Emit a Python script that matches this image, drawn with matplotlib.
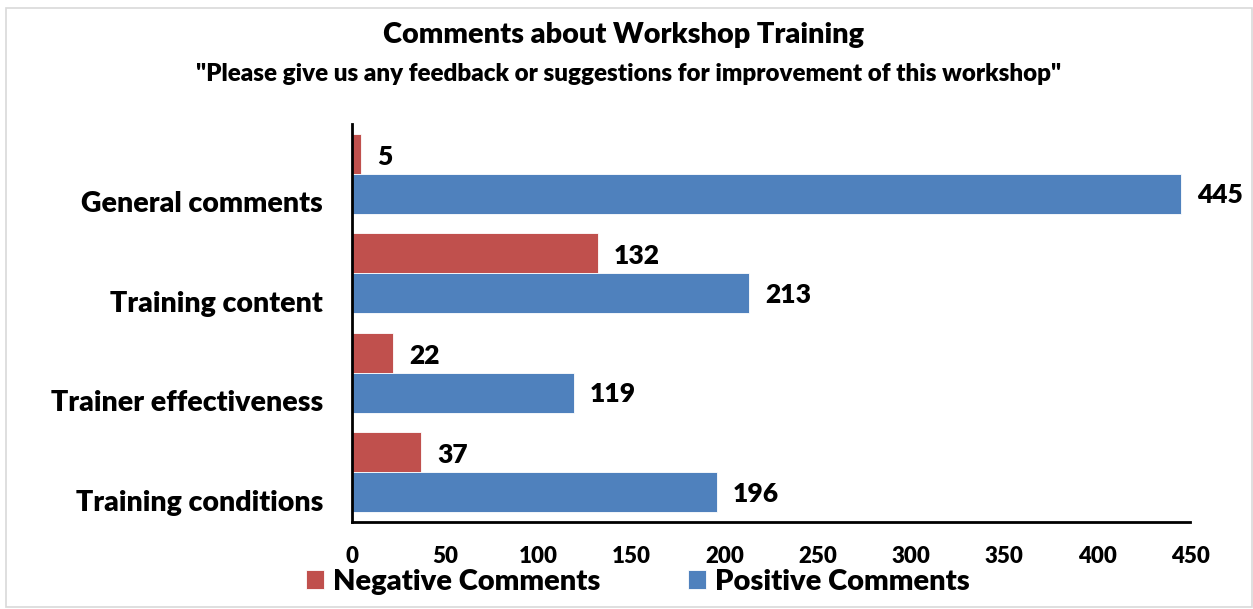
import matplotlib
matplotlib.use("Agg")
import matplotlib.pyplot as plt
import numpy as np
from matplotlib.patches import Rectangle

plt.rcParams['font.family'] = ['Lato', 'DejaVu Sans']
W = 'heavy'
plt.rcParams['font.weight'] = W

categories = ["General comments", "Training content", "Trainer effectiveness", "Training conditions"]
negative = [5, 132, 22, 37]
positive = [445, 213, 119, 196]
xticks = [0, 50, 100, 150, 200, 250, 300, 350, 400, 450]
title = "Comments about Workshop Training"
subtitle = '"Please give us any feedback or suggestions for improvement of this workshop"'
red = "#C0504D"
blue = "#4F81BD"

fig = plt.figure(figsize=(12.53, 6.09), dpi=100)
fig.patches.append(Rectangle((0.005, 0.003), 0.994, 0.984, transform=fig.transFigure,
                             fill=False, edgecolor="#D9D9D9", linewidth=1.2))
ax = fig.add_axes([0.281, 0.1429, 0.669, 0.6535])

y = np.arange(len(categories))
h = 0.4
ax.barh(y - h / 2, negative, height=h, color=red, edgecolor="white", linewidth=0.6, label="Negative Comments")
ax.barh(y + h / 2, positive, height=h, color=blue, edgecolor="white", linewidth=0.6, label="Positive Comments")

for yi, v in zip(y, negative):
    ax.annotate(str(v), (v, yi - h / 2), xytext=(11.5, -2), textcoords="offset points",
                va="center", ha="left", fontsize=19, fontweight=W)
for yi, v in zip(y, positive):
    ax.annotate(str(v), (v, yi + h / 2), xytext=(11.5, -1), textcoords="offset points",
                va="center", ha="left", fontsize=19, fontweight=W)

ax.set_ylim(len(categories) - 0.5, -0.5)
ax.set_xlim(0, 450)
ax.set_yticks(y + 0.28)
ax.set_yticklabels(categories, fontsize=20.5, fontweight=W)
ax.set_xticks(xticks)
ax.set_xticklabels([str(t) for t in xticks], fontsize=16, fontweight=W)
ax.tick_params(axis="both", length=0)
ax.tick_params(axis="x", pad=17)
ax.tick_params(axis="y", pad=21)
for s in ["top", "right"]:
    ax.spines[s].set_visible(False)
for s in ["left", "bottom"]:
    ax.spines[s].set_linewidth(2)
    ax.spines[s].set_color("black")

fig.text(0.498, 0.943, title, ha="center", va="center", fontsize=20.8, fontweight=W)
fig.text(0.502, 0.879, subtitle, ha="center", va="center", fontsize=17.4, fontweight=W)

fig.legend(loc="center", bbox_to_anchor=(0.509, 0.044), ncol=2, frameon=False,
           handlelength=0.62, handleheight=0.62, handletextpad=0.3,
           columnspacing=3.0, prop={'size': 21, 'weight': W})

fig.savefig("out.png", dpi=100)
